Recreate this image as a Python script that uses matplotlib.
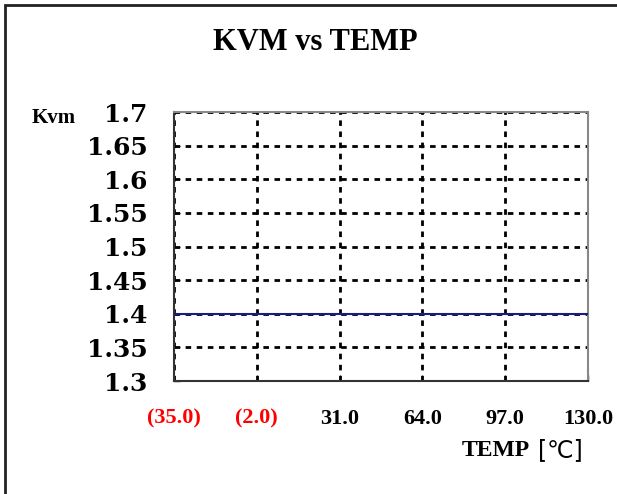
import matplotlib.pyplot as plt
from matplotlib.patches import Rectangle

# Kvm readings across the temperature sweep
temp = [-35.0, -2.0, 31.0, 64.0, 97.0, 130.0]
kvm = [1.4, 1.4, 1.4, 1.4, 1.4, 1.4]
y_ticks = [1.3, 1.35, 1.4, 1.45, 1.5, 1.55, 1.6, 1.65, 1.7]

plt.rcParams['font.family'] = ['Liberation Serif', 'DejaVu Serif']
plt.rcParams['font.weight'] = 'bold'

fig = plt.figure(figsize=(6.17, 4.94), dpi=100)
ax = fig.add_axes([174 / 617, 113 / 494, 414 / 617, 269 / 494])

ax.plot(temp, kvm, color='#1a1a8c', linewidth=1.5, zorder=3)

ax.set_xlim(temp[0], temp[-1])
ax.set_ylim(y_ticks[0], y_ticks[-1])
ax.set_xticks(temp)
ax.set_yticks(y_ticks)
ax.set_yticklabels(['%g' % v for v in y_ticks], fontsize=18,
                   fontweight='bold', family='DejaVu Serif')

xlabels = []
for t in temp:
    xlabels.append('(%.1f)' % abs(t) if t < 0 else '%.1f' % t)
ax.set_xticklabels(xlabels, fontsize=16, fontweight='bold')
for lbl, t in zip(ax.get_xticklabels(), temp):
    lbl.set_color('red' if t < 0 else 'black')

ax.tick_params(axis='both', direction='in', length=4, width=1)
ax.tick_params(axis='x', pad=20)
ax.tick_params(axis='y', pad=19)

ax.grid(True, color='black', linestyle=(0, (2, 2)), linewidth=2)
ax.set_axisbelow(True)
for side in ['left', 'bottom']:
    ax.spines[side].set_color('#333333')
    ax.spines[side].set_linewidth(1.5)
for side in ['top', 'right']:
    ax.spines[side].set_color('#888888')
    ax.spines[side].set_linewidth(1.5)

fig.text(315 / 617, 1 - 42 / 494, 'KVM vs TEMP', ha='center', va='center',
         fontsize=22, fontweight='bold')
fig.text(32 / 617, 1 - 118 / 494, 'Kvm', ha='left', va='center',
         fontsize=15, fontweight='bold')
fig.text(530 / 617, 1 - 450 / 494, 'TEMP', ha='right', va='center',
         fontsize=17, fontweight='bold')
fig.text(583 / 617, 1 - 450 / 494, '[\u2103]', ha='right', va='center',
         fontsize=17, fontweight='normal', family=['DejaVu Sans'])

# frame around the figure
fig.patches.append(Rectangle((5 / 617, -0.1), 1.2, 1.1 - 5 / 494 + 0.001,
                             transform=fig.transFigure, fill=False,
                             edgecolor='#222222', linewidth=2))

fig.savefig('out.png', dpi=100)
